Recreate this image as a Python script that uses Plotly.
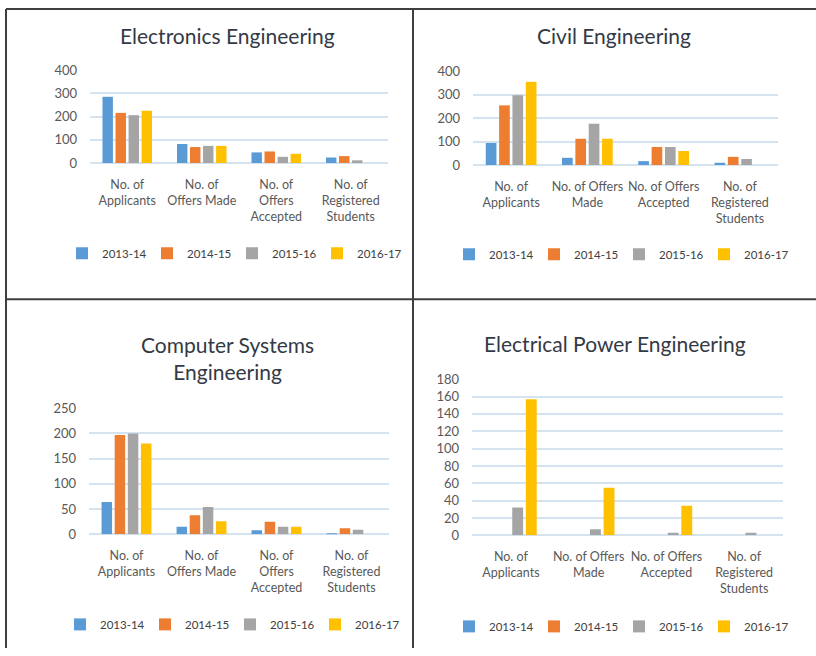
import plotly.graph_objects as go

# Categories and series
years = ["2013-14", "2014-15", "2015-16", "2016-17"]
colors = ["#5B9BD5", "#ED7D31", "#A5A5A5", "#FFC000"]

cats_left = ["No. of<br>Applicants", "No. of<br>Offers Made",
             "No. of<br>Offers<br>Accepted", "No. of<br>Registered<br>Students"]
cats_right = ["No. of<br>Applicants", "No. of Offers<br>Made",
              "No. of Offers<br>Accepted", "No. of<br>Registered<br>Students"]

# values per year: [applicants, offers made, offers accepted, registered]
electronics = [[285, 82, 46, 24], [216, 69, 50, 30], [206, 74, 27, 12], [225, 74, 40, 0]]
civil = [[94, 31, 17, 10], [254, 112, 77, 35], [297, 176, 77, 26], [354, 112, 60, 0]]
computer = [[64, 15, 8, 2], [197, 38, 25, 12], [200, 54, 15, 9], [180, 26, 15, 0]]
electrical = [[0, 0, 0, 0], [0, 0, 0, 0], [32, 7, 3, 3], [157, 55, 34, 0]]

titles = ["Electronics Engineering", "Civil Engineering",
          "Computer Systems<br>Engineering", "Electrical Power Engineering"]

W, H = 816, 656
FONT = "Lato, Carlito, Calibri, sans-serif"
TXT = "#595959"
GRID = "#D5E3F0"

def fx(px):
    return px / W

def fy(py):
    # the page shows up ~8px lower and slightly squeezed, so correct for it
    py = max((py - 8) / 0.975, 1)
    return 1 - py / H

# (data, categories, x-range px, y-range px (top, bottom), ymax, dtick, title pos, legend pos)
panels = [
    (electronics, cats_left, (90, 388), (70, 163), 400, 100, (227, 35), (232, 253)),
    (civil, cats_right, (473, 778), (71, 165), 400, 100, (614, 35), (619, 254)),
    (computer, cats_left, (89, 389), (408, 534), 250, 50, (227, 358), (230, 624)),
    (electrical, cats_right, (472, 783), (379, 535), 180, 20, (615, 343), (619, 626)),
]

fig = go.Figure()

for i, (data, cats, xr, yr, ymax, dtick, tpos, lpos) in enumerate(panels):
    n = i + 1
    sfx = "" if n == 1 else str(n)
    leg = "legend" + sfx
    for year, col, vals in zip(years, colors, data):
        fig.add_trace(go.Bar(
            x=cats, y=vals, name=year,
            marker=dict(color=col, line=dict(width=0)),
            xaxis="x" + sfx, yaxis="y" + sfx,
            legend=leg,
        ))

    fig.layout["xaxis" + sfx] = dict(
        domain=[fx(xr[0]), fx(xr[1])],
        anchor="y" + sfx,
        showgrid=False, showline=False, ticks="",
        ticklabelstandoff=12,
        tickfont=dict(family=FONT, size=12.5, color=TXT),
        fixedrange=True,
    )
    fig.layout["yaxis" + sfx] = dict(
        domain=[fy(yr[1]), fy(yr[0])],
        anchor="x" + sfx,
        range=[0, ymax], dtick=dtick,
        showgrid=True, gridcolor=GRID, gridwidth=1.5,
        zeroline=True, zerolinecolor=GRID, zerolinewidth=1.5,
        showline=False, ticks="",
        ticklabelstandoff=12,
        tickfont=dict(family=FONT, size=13, color=TXT),
        fixedrange=True,
    )
    fig.layout[leg] = dict(
        orientation="h",
        x=fx(lpos[0]), xanchor="center",
        y=fy(lpos[1]), yanchor="middle",
        font=dict(family=FONT, size=11.5, color="#404040"),
        itemwidth=30, entrywidth=40,
        bgcolor="rgba(0,0,0,0)",
        traceorder="normal",
    )
    fig.add_annotation(
        text=titles[i], xref="paper", yref="paper",
        x=fx(tpos[0]), y=fy(tpos[1]),
        xanchor="center", yanchor="middle",
        showarrow=False,
        font=dict(family=FONT, size=21, color="#333A45"),
    )

# table borders
border = dict(color="#3F3F3F", width=2)
fig.add_shape(type="line", xref="paper", yref="paper",
              x0=fx(6), x1=1, y0=fy(5), y1=fy(5), line=border)
fig.add_shape(type="line", xref="paper", yref="paper",
              x0=fx(6), x1=fx(6), y0=0, y1=fy(5), line=border)
fig.add_shape(type="line", xref="paper", yref="paper",
              x0=fx(413), x1=fx(413), y0=0, y1=fy(5), line=border)
fig.add_shape(type="line", xref="paper", yref="paper",
              x0=fx(6), x1=1, y0=fy(299), y1=fy(299), line=border)

fig.update_layout(
    width=W, height=H,
    margin=dict(l=0, r=0, t=0, b=0),
    paper_bgcolor="white", plot_bgcolor="white",
    barmode="group", bargap=0.3, bargroupgap=0.2,
    showlegend=True,
)

fig.write_html(
    "out.html",
    config={"displayModeBar": False, "responsive": False},
    post_script="document.body.style.margin='0';"
                "document.documentElement.style.overflow='hidden';",
)
